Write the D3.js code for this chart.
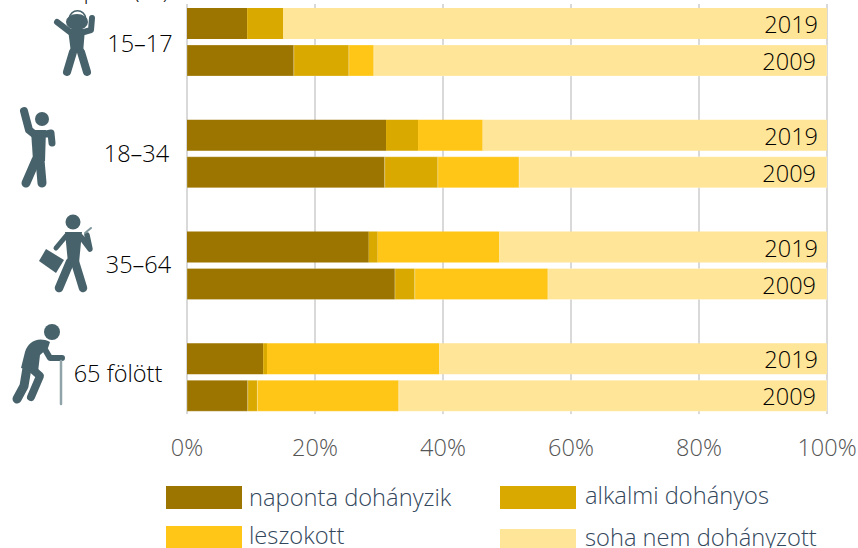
<!DOCTYPE html>
<html><head><meta charset="utf-8">
<script src="https://cdn.jsdelivr.net/npm/d3@7"></script>
<style>html,body{margin:0;padding:0;background:#fff}svg{display:block}text{font-family:"Open Sans",sans-serif}</style>
</head><body><svg id="c" width="858" height="548"></svg>
<script>
const groups = ["15–17","18–34","35–64","65 fölött"];
const years = ["2019","2009"];
const seriesNames = ["naponta dohányzik","alkalmi dohányos","leszokott","soha nem dohányzott"];
const colors = ["#9c7500","#daa900","#ffc617","#ffe597"];
const naponta = [9.4,16.7,31.1,30.9,28.4,32.5,11.9,9.5];
const alkalmi = [5.6,8.6,5.0,8.3,1.4,3.1,0.6,1.5];
const leszokott = [0,3.9,10.1,12.7,19.0,20.8,26.9,22.1];
const soha = [85,70.8,53.8,48.1,51.2,43.6,60.6,66.9];
const ticks = [0,20,40,60,80,100];
const seriesValues = [naponta,alkalmi,leszokott,soha];

const svg = d3.select("#c");
const x = d3.scaleLinear().domain([0,100]).range([187,827]);
const y = d3.scaleBand().domain(groups).range([-1.5,445.5]);
const bandY = d3.scaleOrdinal().domain(years).range([9.5,46.5]);
const barH = 31;

svg.append("g").selectAll("line").data(ticks).join("line")
 .attr("x1",d=>x(d)).attr("x2",d=>x(d)).attr("y1",4).attr("y2",414)
 .attr("stroke","#d9d9d9").attr("stroke-width",2);

const rows = svg.append("g");
const yearRight={"2019":818,"2009":816};
groups.forEach((g,gi)=>{
 years.forEach((yr,yi)=>{
  let acc=0; const idx=gi*2+yi;
  const top=y(g)+bandY(yr);
  seriesValues.forEach((vals,si)=>{
   const v=vals[idx];
   if(v>0){
    const r=rows.append("rect").attr("x",x(acc)).attr("width",x(acc+v)-x(acc)).attr("y",top).attr("height",barH).attr("fill",colors[si]);
    if(yi===1) r.attr("stroke","#fff").attr("stroke-opacity",0.25).attr("stroke-width",1);
   }
   acc+=v;
  });
  svg.append("text").attr("x",yearRight[yr]).attr("y",top+25).attr("text-anchor","end").attr("font-size",23.5).attr("font-weight",300).attr("fill","#000").text(yr);
 });
});

const labelPos=[[140,52],[136.5,162],[138.5,273],[118,382]];
groups.forEach((g,i)=>svg.append("text").attr("x",labelPos[i][0]).attr("y",labelPos[i][1]).attr("text-anchor","middle").attr("font-size",23.5).attr("fill","#000").attr("font-weight",300).text(g));

svg.append("text").attr("x",169).attr("y",-2).attr("text-anchor","end").attr("font-size",23).attr("font-weight",300).attr("fill","#111").text("Korcsoport (év)");

svg.append("g").selectAll("text").data(ticks).join("text")
 .attr("x",d=>x(d)).attr("y",456).attr("text-anchor","middle").attr("font-size",23.5).attr("font-weight",300).attr("fill","#555").text(d=>d+"%");

const legend=[[166,486,249,506],[500,486,585,504],[166,526,249,544],[500,529,585,546]];
seriesNames.forEach((n,i)=>{
 const l=legend[i];
 svg.append("rect").attr("x",l[0]).attr("y",l[1]).attr("width",76).attr("height",23).attr("fill",colors[i]);
 svg.append("text").attr("x",l[2]).attr("y",l[3]).attr("font-size",23.7).attr("font-weight",300).attr("fill","#33475c").text(n);
});

const ic="#47626b";
const icons=svg.append("g").attr("fill",ic).attr("stroke",ic).attr("stroke-linecap","round").attr("stroke-linejoin","round");
function limb(d,w,c){icons.append("path").attr("d",d).attr("fill","none").attr("stroke-width",w).attr("stroke",c||ic);}
function head(cx,cy,r){icons.append("circle").attr("cx",cx).attr("cy",cy).attr("r",r).attr("stroke","none");}
function poly(d){icons.append("path").attr("d",d).attr("stroke","none");}
// teen
icons.append("ellipse").attr("cx",77).attr("cy",22).attr("rx",11).attr("ry",8).attr("stroke","none");
limb("M57 22L70 32",6); limb("M84 32L91 30L92 18",6);
poly("M68 29L85 29L83 53L71 53Z");
limb("M73 52L67 72",8); limb("M81 52L87 72",8);
limb("M69 19C70 8 85 8 86 19",1.5);
// young
head(42,119,7);
limb("M24 111L29 130L34 134",8);
poly("M31 130L46 130L45 161L33 161Z");
limb("M36 160L26 183",9); limb("M40 160L42 183",9);
limb("M46 134L51 133L52 143",7);
// adult
head(73,222,7.5);
poly("M65 232L82 232L79 263L68 263Z");
limb("M70 262L59 288",8.5); limb("M75 262L83 288",8.5);
limb("M81 237L90 249L87 235",5.5);
limb("M66 236L56 248",5);
poly("M39 261L46 249L64 260L56 273Z");
limb("M85 233L91 228",2,"#7f959c");
// senior
head(52,332,8);
poly("M50 342C38 336 28 342 25 352L21 368L38 372L40 355L48 348Z");
limb("M43 346L50 358L62 358",6);
limb("M31 368L40 376L31 397",8); limb("M27 368L24 386L17 399",9);
limb("M61 361L61 404",2.5,"#8fa3a9");
</script></body></html>
